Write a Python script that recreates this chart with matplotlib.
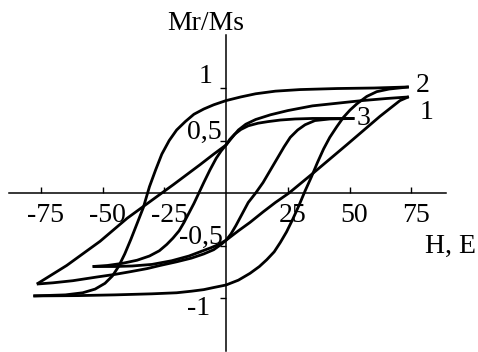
import matplotlib
matplotlib.use("Agg")
import matplotlib.pyplot as plt

# loop 1 (slanted)
h1_up = [74, 65, 55, 45, 35, 25, 18, 12, 8, 5, 2.5, 0, -5, -10.5, -21.3, -26, -40, -51, -64.5, -76.6]
m1_up = [0.915, 0.90, 0.88, 0.855, 0.83, 0.785, 0.745, 0.70, 0.655, 0.60, 0.53, 0.457, 0.37, 0.27,
         0.08, 0.0, -0.24, -0.46, -0.69, -0.867]
h1_dn = [-76.6, -70, -62, -52.3, -45, -38.9, -32, -26.7, -20, -14, -9, -5, -2, 0, 5, 9.7, 15, 20,
         25.5, 35.3, 48.9, 62.3, 70.4, 74]
m1_dn = [-0.867, -0.855, -0.835, -0.80, -0.775, -0.75, -0.72, -0.69, -0.655, -0.62, -0.58, -0.54,
         -0.49, -0.45, -0.36, -0.28, -0.18, -0.09, 0.0, 0.19, 0.46, 0.73, 0.88, 0.917]

# loop 2 (widest, square)
h2_up = [74, 60, 45, 30, 20, 12, 6, 0, -5, -9, -13, -16.5, -20, -23, -26, -28.5, -31, -33.5,
         -36, -38.5, -41, -43.5, -46, -49, -53, -58, -65, -78]
m2_up = [1.01, 1.0, 0.995, 0.985, 0.97, 0.945, 0.915, 0.88, 0.84, 0.80, 0.75, 0.68, 0.60, 0.50,
         0.37, 0.22, 0.06, -0.14, -0.29, -0.44, -0.58, -0.70, -0.79, -0.86, -0.915, -0.95,
         -0.97, -0.98]
h2_dn = [-78, -60, -45, -30, -20, -14, -9, -5, 0, 5, 9.7, 13.5, 16.5, 19.5, 22, 24.5, 27, 29.5,
         32, 34.5, 37, 39.5, 42, 44.8, 47.5, 50.2, 53, 57, 61, 66, 74]
m2_dn = [-0.98, -0.977, -0.97, -0.96, -0.95, -0.935, -0.92, -0.90, -0.876, -0.83, -0.765, -0.70,
         -0.635, -0.56, -0.47, -0.37, -0.25, -0.12, 0.02, 0.15, 0.29, 0.42, 0.53, 0.63, 0.72,
         0.79, 0.85, 0.92, 0.965, 0.99, 1.01]

# loop 3 (minor loop)
h3_up = [52, 42, 35, 28, 22, 17, 13, 9, 6, 3.5, 1.5, 0, -2, -4, -6.5, -9, -11, -13, -15, -17,
         -19, -21.5, -24, -27, -31, -36, -42, -48, -54]
m3_up = [0.71, 0.71, 0.71, 0.705, 0.695, 0.68, 0.665, 0.64, 0.605, 0.56, 0.51, 0.457, 0.40,
         0.33, 0.22, 0.10, 0.0, -0.10, -0.19, -0.28, -0.36, -0.43, -0.49, -0.55, -0.60, -0.64,
         -0.67, -0.69, -0.70]
h3_dn = [-54, -45, -38, -30, -22, -15, -10.5, -6, -3, -1.5, 0, 2, 4, 6.5, 9, 12, 15, 18, 21,
         23.5, 26, 29, 32, 36, 42, 52]
m3_dn = [-0.70, -0.70, -0.695, -0.68, -0.645, -0.60, -0.56, -0.52, -0.49, -0.47, -0.45, -0.39,
         -0.31, -0.20, -0.09, 0.0, 0.10, 0.22, 0.34, 0.44, 0.53, 0.60, 0.65, 0.69, 0.705, 0.71]

x_ticks = [-75, -50, -25, 25, 50, 75]
y_ticks = [1, 0.5, -0.5, -1]
y_tick_labels = ["1", "0,5", "-0,5", "-1"]

plt.rcParams["font.family"] = ["Liberation Serif", "DejaVu Serif"]
fs = 20

fig = plt.figure(figsize=(4.78, 3.52), dpi=100)
ax = fig.add_axes((0, 0, 1, 1))
ax.set_xlim(-91.5, 102)
ax.set_ylim(-1.514, 1.838)

lw = 2.0
for h, m in [(h1_up, m1_up), (h1_dn, m1_dn), (h2_up, m2_up), (h2_dn, m2_dn),
             (h3_up, m3_up), (h3_dn, m3_dn)]:
    ax.plot(h, m, color="black", lw=lw, solid_capstyle="butt", solid_joinstyle="round")

# axes through the origin
for s in ("top", "right"):
    ax.spines[s].set_visible(False)
ax.spines["left"].set_position(("data", 0))
ax.spines["bottom"].set_position(("data", 0))
ax.spines["left"].set_bounds(-1.5, 1.5)
ax.spines["bottom"].set_bounds(-88, 89)
ax.spines["left"].set_linewidth(1.1)
ax.spines["bottom"].set_linewidth(1.1)

ax.set_xticks(x_ticks)
ax.set_yticks(y_ticks)
ax.tick_params(axis="x", direction="in", length=4, width=1, labelbottom=False)
ax.tick_params(axis="y", direction="out", length=4, width=1, labelleft=False)

for v in x_ticks:
    ax.text(v + 2, -0.276, str(v), fontsize=fs, ha="center", va="baseline")

y_label_pos = [(-5.3, 1.048), (-1.6, 0.514), (-1.2, -0.486), (-6.5, -1.16)]
for (hx, my), lab in zip(y_label_pos, y_tick_labels):
    ax.text(hx, my, lab, fontsize=fs, ha="right", va="baseline")

ax.text(-8.1, 1.55, "Mr/Ms", fontsize=fs, ha="center", va="baseline")
ax.text(80.6, -0.57, "H, E", fontsize=fs, ha="left", va="baseline")

ax.text(77, 0.965, "2", fontsize=fs, ha="left", va="baseline")
ax.text(78.5, 0.705, "1", fontsize=fs, ha="left", va="baseline")
ax.text(52.9, 0.648, "3", fontsize=fs, ha="left", va="baseline")

fig.savefig("out.png", dpi=100)
